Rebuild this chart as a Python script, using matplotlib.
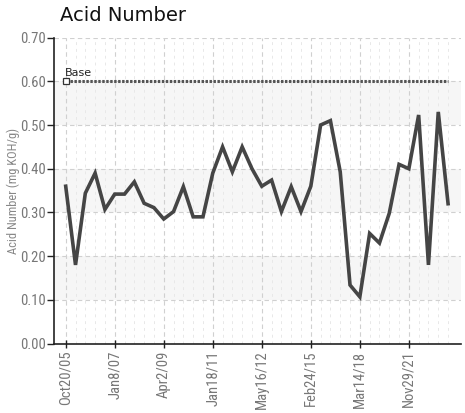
import numpy as np
import matplotlib.pyplot as plt

# acid number readings, one per sample (categorical x axis)
acid_number = [0.36, 0.18, 0.344, 0.39, 0.307, 0.342, 0.342, 0.37, 0.321, 0.311,
               0.285, 0.302, 0.359, 0.29, 0.29, 0.39, 0.45, 0.393, 0.45, 0.40,
               0.36, 0.374, 0.302, 0.359, 0.302, 0.36, 0.50, 0.51, 0.393, 0.134,
               0.107, 0.252, 0.23, 0.298, 0.41, 0.40, 0.523, 0.18, 0.53, 0.32]
base_value = 0.60
tick_labels = ['Oct20/05', 'Jan8/07', 'Apr2/09', 'Jan18/11', 'May16/12',
               'Feb24/15', 'Mar14/18', 'Nov29/21']
tick_every = 5

narrow = ['Roboto Condensed', 'DejaVu Sans']

n = len(acid_number)
idx = np.arange(n)

fig = plt.figure(figsize=(4.65, 4.13), dpi=100)
ax = fig.add_axes([0.116, 0.168, 0.875, 0.741])

# light bands
for lo in (0.1, 0.3, 0.5):
    ax.axhspan(lo, lo + 0.1, color='#f6f6f6', zorder=0, lw=0)

ax.plot(idx, acid_number, color='#454545', lw=2.6, zorder=3, solid_joinstyle='miter')

# base line
ax.plot(idx, [base_value] * n, color='#555555', lw=2.2, ls=(0, (0.8, 0.5)), zorder=2)
ax.plot([0], [base_value], marker='s', ms=4, mfc='white', mec='#333333', mew=0.9, zorder=4)
ax.text(-0.05, base_value + 0.008, 'Base', fontsize=8, color='#222222', ha='left', va='bottom')

ax.set_xlim(-1.2, n - 1 + 1.3)
ax.set_ylim(0, 0.70)
ax.set_yticks(np.arange(0, 0.71, 0.1))
ax.set_yticklabels(['%.2f' % v for v in np.arange(0, 0.71, 0.1)])
ax.set_xticks(idx[::tick_every])
ax.set_xticklabels(tick_labels, rotation=90)
ax.set_xticks(idx, minor=True)

ax.grid(True, which='major', axis='both', color='#d0d0d0', ls=(0, (4, 3)), lw=0.8)
ax.grid(True, which='minor', axis='x', color='#e8e8e8', ls=(0, (3, 4)), lw=0.7)
ax.set_axisbelow(True)

for s in ('top', 'right'):
    ax.spines[s].set_visible(False)
for s in ('left', 'bottom'):
    ax.spines[s].set_color('#222222')
    ax.spines[s].set_linewidth(1.2)

ax.tick_params(axis='y', length=5, width=1, color='#222222', labelcolor='#777777', pad=1)
ax.tick_params(axis='x', direction='inout', length=6, width=1, color='#222222',
               labelcolor='#777777', pad=2)
ax.tick_params(axis='x', which='minor', length=0)
for lab in ax.get_xticklabels() + ax.get_yticklabels():
    lab.set_family(narrow)
    lab.set_fontsize(10.5)

ax.set_ylabel('Acid Number (mg KOH/g)', fontsize=9, color='#888888', family=narrow, labelpad=0)

fig.text(0.129, 0.962, 'Acid Number', fontsize=14, color='#111111', ha='left', va='center')

fig.savefig('out.png', dpi=100)
